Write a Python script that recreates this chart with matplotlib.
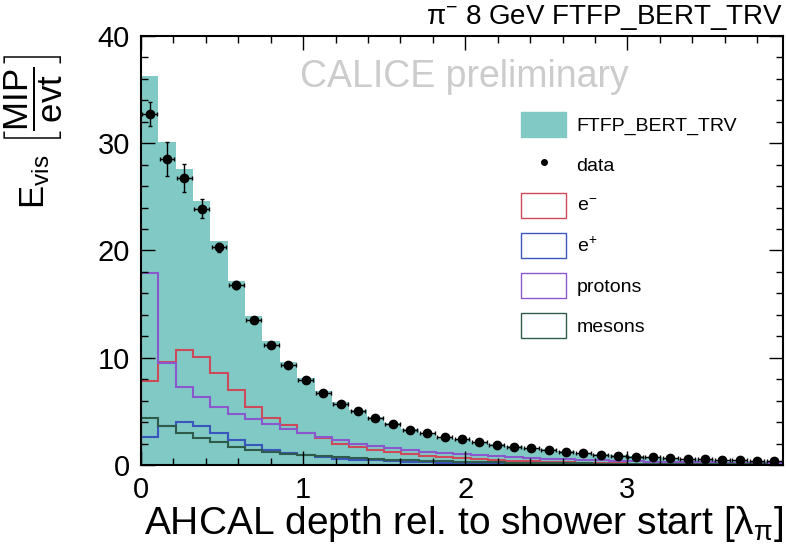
import numpy as np
import matplotlib
matplotlib.use("Agg")
import matplotlib.pyplot as plt
from matplotlib.patches import Patch
from matplotlib.lines import Line2D
from matplotlib.ticker import MultipleLocator

plt.rcParams['font.family'] = ['Liberation Sans', 'DejaVu Sans']
plt.rcParams['mathtext.fontset'] = 'custom'
plt.rcParams['mathtext.rm'] = 'Liberation Sans'
plt.rcParams['mathtext.it'] = 'Liberation Sans:italic'
plt.rcParams['mathtext.bf'] = 'Liberation Sans:bold'

# ---- data ----
n_bins = 37
x_max = 3.96
mc_total = [36.3, 30.1, 27.6, 24.6, 20.9, 17.2, 13.9, 11.6, 9.6, 8.1, 6.9, 5.9, 5.1,
            4.5, 3.9, 3.4, 3.0, 2.65, 2.4, 2.15, 1.95, 1.75, 1.6, 1.45, 1.3, 1.15,
            1.02, 0.92, 0.82, 0.74, 0.66, 0.6, 0.54, 0.49, 0.45, 0.41, 0.38]
data_vals = [32.7, 28.5, 26.8, 23.9, 20.3, 16.8, 13.5, 11.2, 9.3, 7.9, 6.7, 5.7, 5.0,
             4.4, 3.8, 3.3, 3.0, 2.6, 2.4, 2.1, 1.9, 1.7, 1.55, 1.4, 1.2, 1.1,
             0.95, 0.85, 0.77, 0.7, 0.63, 0.57, 0.52, 0.47, 0.43, 0.39, 0.36]
data_err = [1.1, 1.6, 1.3, 0.9, 0.4, 0.35, 0.3, 0.3, 0.25, 0.25, 0.2, 0.2, 0.18,
            0.16, 0.15, 0.14, 0.13, 0.12, 0.11, 0.1, 0.1, 0.09, 0.09, 0.08, 0.08, 0.07,
            0.07, 0.06, 0.06, 0.06, 0.05, 0.05, 0.05, 0.05, 0.04, 0.04, 0.04]
e_minus = [7.8, 9.6, 10.7, 10.1, 8.6, 7.0, 5.4, 4.4, 3.7, 3.0, 2.5, 2.0, 1.7,
           1.4, 1.2, 1.0, 0.85, 0.72, 0.62, 0.53, 0.45, 0.38, 0.33, 0.28, 0.24, 0.2,
           0.17, 0.15, 0.13, 0.11, 0.09, 0.08, 0.07, 0.06, 0.05, 0.04, 0.035]
e_plus = [2.6, 3.6, 4.0, 3.6, 3.0, 2.3, 1.9, 1.4, 1.1, 0.9, 0.75, 0.6, 0.5,
          0.42, 0.35, 0.3, 0.25, 0.21, 0.18, 0.15, 0.13, 0.11, 0.09, 0.08, 0.07, 0.06,
          0.05, 0.04, 0.035, 0.03, 0.025, 0.02, 0.02, 0.015, 0.015, 0.01, 0.01]
protons = [17.9, 9.5, 7.3, 6.3, 5.4, 4.8, 4.3, 3.8, 3.4, 3.0, 2.6, 2.3, 2.0,
           1.75, 1.55, 1.4, 1.25, 1.1, 1.0, 0.9, 0.8, 0.72, 0.65, 0.58, 0.52, 0.48,
           0.43, 0.39, 0.35, 0.32, 0.3, 0.27, 0.25, 0.22, 0.2, 0.17, 0.15]
mesons = [4.4, 3.6, 3.0, 2.5, 2.1, 1.7, 1.4, 1.2, 1.0, 0.9, 0.8, 0.7, 0.62,
          0.55, 0.5, 0.45, 0.4, 0.36, 0.32, 0.29, 0.26, 0.23, 0.21, 0.19, 0.17, 0.15,
          0.13, 0.12, 0.11, 0.1, 0.09, 0.08, 0.07, 0.06, 0.055, 0.05, 0.045]

labels = ['FTFP_BERT_TRV', 'data', r'e$^{-}$', r'e$^{+}$', 'protons', 'mesons']
title = r'$\mathrm{\pi}^{-}$ 8 GeV FTFP_BERT_TRV'
xlabel = r'AHCAL depth rel. to shower start [$\mathrm{\lambda}_{\mathrm{\pi}}$]'

teal = '#80c9c5'
col_em = '#cc4a5a'
col_ep = '#3a55bb'
col_p = '#8a58cc'
col_m = '#2f5c4a'

edges = np.linspace(0, x_max, n_bins + 1)
centers = 0.5 * (edges[:-1] + edges[1:])
halfw = 0.5 * (edges[1] - edges[0])

fig = plt.figure(figsize=(7.86, 5.44), dpi=100)
ax = fig.add_axes([141/786, 1 - 465/544, (783-141)/786, (465-36)/544])

ax.stairs(mc_total, edges, fill=True, color=teal, lw=0)
ax.stairs(e_minus, edges, color=col_em, lw=1.5)
ax.stairs(e_plus, edges, color=col_ep, lw=1.5)
ax.stairs(protons, edges, color=col_p, lw=1.5)
ax.stairs(mesons, edges, color=col_m, lw=1.5)
ax.errorbar(centers, data_vals, yerr=data_err, xerr=halfw * 0.85, fmt='o', color='black',
            ms=6, elinewidth=1.0, capsize=1.5, zorder=5)

ax.set_xlim(0, x_max)
ax.set_ylim(0, 40)
ax.xaxis.set_major_locator(MultipleLocator(1))
ax.xaxis.set_minor_locator(MultipleLocator(0.2))
ax.yaxis.set_major_locator(MultipleLocator(10))
ax.yaxis.set_minor_locator(MultipleLocator(2))
ax.tick_params(which='both', direction='in', top=True, right=True, width=1.0)
ax.tick_params(which='major', length=10, labelsize=21, pad=8)
ax.tick_params(which='minor', length=5)
for s in ax.spines.values():
    s.set_linewidth(1.5)

ax.set_xlabel(xlabel, fontsize=28, loc='right', labelpad=0)
fig.text(0.042, 1 - 132/544, r'$\mathrm{E}_{\mathrm{vis}}\ \left[\dfrac{\mathrm{MIP}}{\mathrm{evt}}\right]$',
         rotation=90, fontsize=25, ha='center', va='center')

fig.text(783/786, 1 - 18/544, title, ha='right', va='center', fontsize=20)
ax.text(0.503, 0.905, 'CALICE preliminary', transform=ax.transAxes, fontsize=27,
        color='#cccccc', ha='center', va='center')

handles = [Patch(facecolor=teal, edgecolor=teal),
           Line2D([], [], marker='o', color='black', ls='none', ms=4),
           Patch(facecolor='white', edgecolor=col_em, lw=1.0),
           Patch(facecolor='white', edgecolor=col_ep, lw=1.0),
           Patch(facecolor='white', edgecolor=col_p, lw=1.0),
           Patch(facecolor='white', edgecolor=col_m, lw=1.0)]
leg = ax.legend(handles, labels, loc='upper left', bbox_to_anchor=(0.577, 0.845),
                frameon=False, fontsize=14, handlelength=2.3, handleheight=1.6,
                labelspacing=0.78, handletextpad=0.55, borderpad=0)

fig.savefig('out.png', dpi=100)
